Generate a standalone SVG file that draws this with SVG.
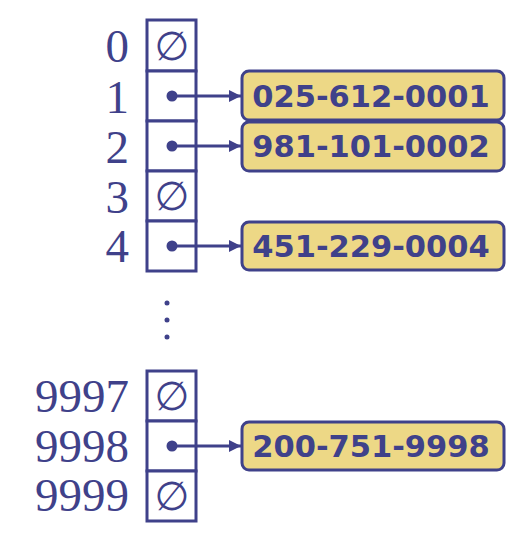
<svg xmlns="http://www.w3.org/2000/svg" width="512" height="556" viewBox="0 0 512 556">
<defs>
<style>
.lbl{font-family:"Liberation Serif","Times New Roman",serif;font-size:47px;fill:#3F418A;text-anchor:end}
.cell{fill:#fff;stroke:#3F418A;stroke-width:3}
.box{fill:#EDD886;stroke:#3F418A;stroke-width:3}
.num{font-family:"DejaVu Sans",Verdana,sans-serif;font-weight:bold;font-size:30.5px;fill:#3F418A;text-anchor:middle}
.null{font-family:"DejaVu Sans",sans-serif;font-size:40px;fill:#3F418A;text-anchor:middle}
.dot{fill:#3F418A}
.conn{stroke:#3F418A;stroke-width:3;fill:none}
</style>
<marker id="ah" markerWidth="12" markerHeight="12" viewBox="0 0 12 12" refX="12" refY="6" orient="auto" markerUnits="userSpaceOnUse">
<path d="M0,0 L12,6 L0,12 Z" fill="#3F418A"/>
</marker>
</defs>
<g id="table">
<g id="cell0"><rect class="cell" x="147" y="20" width="49" height="51"/><text class="lbl" x="129" y="62">0</text><text class="null" x="172" y="60">∅</text></g>
<g id="cell1"><rect class="cell" x="147" y="71" width="49" height="50"/><text class="lbl" x="129" y="113">1</text><circle class="dot" cx="172" cy="96" r="5.5"/></g>
<g id="cell2"><rect class="cell" x="147" y="121" width="49" height="50"/><text class="lbl" x="129" y="163">2</text><circle class="dot" cx="172" cy="146" r="5.5"/></g>
<g id="cell3"><rect class="cell" x="147" y="171" width="49" height="50"/><text class="lbl" x="129" y="213">3</text><text class="null" x="172" y="210">∅</text></g>
<g id="cell4"><rect class="cell" x="147" y="221" width="49" height="50"/><text class="lbl" x="129" y="262">4</text><circle class="dot" cx="172" cy="246" r="5.5"/></g>
<g id="ellipsis"><circle class="dot" cx="167" cy="303" r="2.5"/><circle class="dot" cx="167" cy="320" r="2.5"/><circle class="dot" cx="167" cy="337" r="2.5"/></g>
<g id="cell9997"><rect class="cell" x="147" y="371" width="49" height="50"/><text class="lbl" x="129" y="412">9997</text><text class="null" x="172" y="410">∅</text></g>
<g id="cell9998"><rect class="cell" x="147" y="421" width="49" height="50"/><text class="lbl" x="129" y="462">9998</text><circle class="dot" cx="172" cy="446" r="5.5"/></g>
<g id="cell9999"><rect class="cell" x="147" y="471" width="49" height="50"/><text class="lbl" x="129" y="511">9999</text><text class="null" x="172" y="510">∅</text></g>
</g>
<g id="connectors">
<line class="conn" x1="172" y1="96" x2="241" y2="96" marker-end="url(#ah)"/>
<line class="conn" x1="172" y1="146" x2="241" y2="146" marker-end="url(#ah)"/>
<line class="conn" x1="172" y1="246" x2="241" y2="246" marker-end="url(#ah)"/>
<line class="conn" x1="172" y1="446" x2="241" y2="446" marker-end="url(#ah)"/>
</g>
<g id="entry1"><rect class="box" x="242" y="71" width="262" height="49" rx="7"/><text class="num" x="371" y="107">025-612-0001</text></g>
<g id="entry2"><rect class="box" x="242" y="122" width="262" height="49" rx="7"/><text class="num" x="371" y="157">981-101-0002</text></g>
<g id="entry4"><rect class="box" x="242" y="222" width="262" height="48" rx="7"/><text class="num" x="371" y="257">451-229-0004</text></g>
<g id="entry9998"><rect class="box" x="242" y="422" width="262" height="48" rx="7"/><text class="num" x="371" y="457">200-751-9998</text></g>
</svg>
